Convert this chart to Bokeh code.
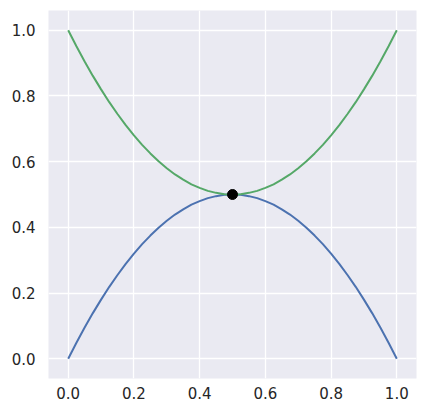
from bokeh.plotting import figure
from bokeh.models import Range1d, FixedTicker, NumeralTickFormatter
from bokeh.embed import file_html
from bokeh.resources import INLINE

x = [0.0, 0.025, 0.05, 0.075, 0.1, 0.125, 0.15, 0.175, 0.2, 0.225, 0.25, 0.275, 0.3, 0.325,
     0.35, 0.375, 0.4, 0.425, 0.45, 0.475, 0.5, 0.525, 0.55, 0.575, 0.6, 0.625, 0.65, 0.675,
     0.7, 0.725, 0.75, 0.775, 0.8, 0.825, 0.85, 0.875, 0.9, 0.925, 0.95, 0.975, 1.0]
lower = [0.0, 0.049, 0.095, 0.139, 0.18, 0.219, 0.255, 0.289, 0.32, 0.349, 0.375, 0.399, 0.42,
         0.439, 0.455, 0.469, 0.48, 0.489, 0.495, 0.499, 0.5, 0.499, 0.495, 0.489, 0.48, 0.469,
         0.455, 0.439, 0.42, 0.399, 0.375, 0.349, 0.32, 0.289, 0.255, 0.219, 0.18, 0.139, 0.095,
         0.049, 0.0]
upper = [1.0, 0.951, 0.905, 0.861, 0.82, 0.781, 0.745, 0.711, 0.68, 0.651, 0.625, 0.601, 0.58,
         0.561, 0.545, 0.531, 0.52, 0.511, 0.505, 0.501, 0.5, 0.501, 0.505, 0.511, 0.52, 0.531,
         0.545, 0.561, 0.58, 0.601, 0.625, 0.651, 0.68, 0.711, 0.745, 0.781, 0.82, 0.861, 0.905,
         0.951, 1.0]
point_x = [0.5]
point_y = [0.5]
ticks = [0.0, 0.2, 0.4, 0.6, 0.8, 1.0]

p = figure(width=427, height=417, output_backend="svg", toolbar_location=None,
           x_range=Range1d(-0.06, 1.06), y_range=Range1d(-0.06, 1.06),
           min_border_left=48, min_border_right=11, min_border_top=10, min_border_bottom=39)
p.background_fill_color = "#EAEAF2"
p.border_fill_color = "white"
p.outline_line_color = None

p.line(x, lower, line_color="#4C72B0", line_width=2)
p.line(x, upper, line_color="#55A868", line_width=2)
p.scatter(point_x, point_y, size=10, fill_color="black", line_color="black")

for ax in (p.xaxis, p.yaxis):
    ax.ticker = FixedTicker(ticks=ticks)
    ax.formatter = NumeralTickFormatter(format="0.0")
    ax.axis_line_color = None
    ax.major_tick_line_color = None
    ax.minor_tick_line_color = None
    ax.major_tick_out = 0
    ax.major_label_text_font = "DejaVu Sans"
    ax.major_label_text_font_size = "15px"
    ax.major_label_text_color = "#262626"
p.yaxis.major_label_standoff = 13
p.xaxis.major_label_standoff = 8

for g in (p.xgrid, p.ygrid):
    g.ticker = FixedTicker(ticks=ticks)
    g.grid_line_color = "white"
    g.grid_line_width = 1.3

open("out.html", "w").write(file_html(p, INLINE))
